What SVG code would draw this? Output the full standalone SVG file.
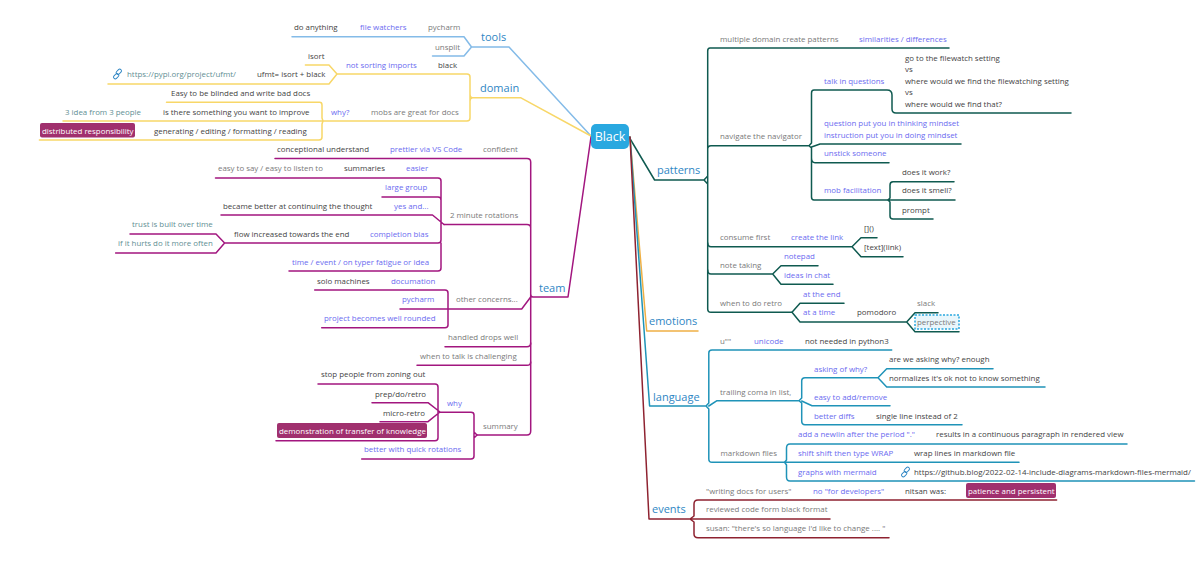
<svg xmlns="http://www.w3.org/2000/svg" width="1200" height="565" viewBox="0 0 1200 565">
<style>
text{font-family:"Open Sans","Noto Sans","Liberation Sans",sans-serif;font-size:7.9px;fill:#444}
.p{fill:#6b6bf0}.g{fill:#7a7a7a}.b{fill:#5f8f94}.w{fill:#fff}
.tp{font-size:11px;fill:#2f86c4}
.c path{fill:none;stroke-width:1.5;stroke-linejoin:round;stroke-linecap:round}
.tools path{stroke:#84bbe8}.domain path{stroke:#f8d768}.team path{stroke:#a2167f}.patterns path{stroke:#0f5a50}.emotions path{stroke:#efb045}.language path{stroke:#1f93b8}.events path{stroke:#8e2230}
.tag{fill:#a0306e}
.lnk{fill:none;stroke:#2f86c4;stroke-width:1}
</style>
<rect width="1200" height="565" fill="#fff"/>
<g id="connectors" class="c">
<g class="tools"><path d="M591 136L509 47H471.5L464 36.7H292M471.5 47L464 56H432.5"/></g>
<g class="domain"><path d="M591 136L520.5 97.7H472.6M337 74H467Q470 74 470 77V118Q470 121 467 121H323M470 94Q470 97.7 472.6 97.7Q470 97.7 470 101M337 74L329 65H305.4M337 74L329 84H108M319.6 102.3H166.5M319.6 102.3Q322 102.3 322 105V118L323 121L322 124V137Q322 140 319 140H39.4M323 121H63"/></g>
<g class="team"><path d="M591 137L568 297H533M530.7 294Q530.7 297 533 297M275 158.5H527Q530.7 158.5 530.7 162V431Q530.7 435 527 435H477M444 224.500H527Q530.7 224.500 530.7 228"/>
<path d="M215.5 178H438Q441 178 441 181V240Q441 243 438 243H224.6M382 197H438Q441 197 441 200M221 215H432.5L444 224.500M289 271H438Q441 271 441 268V243M224.6 243L216 234H130M224.6 243L216 253H115.6"/>
<path d="M530.7 297L521.7 309H450M314.7 290H445Q448 290 448 293V325Q448 327.7 445 327.7H321.7M400 309H450M445 346.7H527Q530.7 346.7 530.7 343M417 365.3H527Q530.7 365.3 530.7 362"/>
<path d="M471 412.3H440M471 412.3Q474 412.3 474 415V456Q474 459 471 459H361.7M474 432L477 435L474 438M318 384H435Q438 384 438 387V437.7Q438 440.7 435 440.7H276M440 412L428 402.7H372M440 412L428 421.7H380"/></g>
<g class="patterns"><path d="M629 137L654.6 180H704M710 48H949M710 48Q707.7 48 707.7 51V309Q707.7 312.3 711 312.3H792M704 180L707.7 176M704 180L707.7 184M711 145.7H809M707.7 149Q707.7 145.7 711 145.7M809 145.7L811.5 143V93Q811.5 90 814 90H887Q892 90 892 95V109Q892 113 896 113H1071M809 145.7L811.5 148V197Q811.5 200 814 200H888M811.5 147L820 144H961M811.5 158Q811.5 162.7 815 162.7H889"/>
<path d="M888 200L890 198V185Q890 181.7 893 181.7H954M888 200H955M888 200L890 202V216Q890 219 893 219H933"/>
<path d="M707.7 243Q707.7 246.7 711 246.7H852L861 237.7H877M852 246.7L861 256.7H903M707.7 270Q707.7 274 711 274H772.7L781 265.7H818M772.7 274L781 284.3H833M792 312.3L800 303.3H844M792 312.3L800 322H906.7L915 312.7H938M906.7 322L915 331.7H959"/></g>
<g class="emotions"><path d="M630 137L646.7 331H698"/></g>
<g class="language"><path d="M630 137L649.6 406H706L708.8 403V353Q708.8 350 712 350H891.7M706 406L708.8 409V459Q708.8 462.3 712 462.3H784.6M708.8 406L717 400.7H799M799 400.7L801.7 398V381Q801.7 377.7 805 377.7H878L886.7 368.7H993M878 377.7L886.7 387H1045M799 400.7L801.7 403V421Q801.7 424.7 805 424.7H962M801.7 401L812 405.7H890"/>
<path d="M784.6 462.3H1019M784.6 462.3L786.5 460V448Q786.5 444 790 444H1127M784.6 462.3L786.5 465V477Q786.5 481 790 481H1194.5"/></g>
<g class="events"><path d="M630 137L649 519H690M690 519L694 516V504Q694 500 698 500H1056.6M690 519H830M690 519L694 522V534Q694 537.7 698 537.7H889"/></g>
</g>
<g id="black"><rect x="591" y="124" width="38" height="25" rx="5" fill="#29a8e0"/><text x="610" y="141" text-anchor="middle" class="w" style="font-size:12.5px">Black</text></g>
<g id="tools"><text x="481" y="41" class="tp">tools</text>
<text x="294" y="30">do anything</text><text x="360" y="30" class="p">file watchers</text><text x="428" y="30" class="g">pycharm</text><text x="435" y="50" class="g">unsplit</text></g>
<g id="domain"><text x="480" y="92" class="tp">domain</text>
<text x="308" y="59">isort</text><text x="346" y="68" class="p">not sorting imports</text><text x="438" y="68">black</text><text x="257" y="77">ufmt= isort + black</text>
<g class="lnk"><rect x="113" y="74.500" width="6" height="3.500" rx="1.700" transform="rotate(-45 116 76)"/><rect x="116" y="70" width="6" height="3.500" rx="1.700" transform="rotate(-45 119 72)"/></g>
<text x="127" y="77" class="b">https://pypi.org/project/ufmt/</text>
<text x="171" y="96">Easy to be blinded and write bad docs</text><text x="331" y="115" class="p">why?</text><text x="371" y="115" class="g">mobs are great for docs</text><text x="65" y="115" class="b">3 idea from 3 people</text><text x="163" y="115">is there something you want to improve</text>
<rect x="40" y="123" width="95" height="14.500" rx="2" class="tag"/><text x="42" y="133.500" class="w">distributed responsibility</text><text x="154" y="134">generating / editing / formatting / reading</text></g>
<g id="team"><text x="539" y="292" class="tp">team</text>
<text x="277" y="152">conceptional understand</text><text x="390" y="152" class="p">prettier via VS Code</text><text x="483" y="152" class="g">confident</text>
<text x="218" y="171" class="g">easy to say / easy to listen to</text><text x="344" y="171">summaries</text><text x="406" y="171" class="p">easier</text>
<text x="385" y="190" class="p">large group</text><text x="223" y="209">became better at continuing the thought</text><text x="394" y="209" class="p">yes and...</text>
<text x="450" y="218" class="g">2 minute rotations</text><text x="132" y="227" class="b">trust is built over time</text><text x="234" y="237">flow increased towards the end</text><text x="370" y="237" class="p">completion bias</text><text x="118" y="246" class="b">if it hurts do it more often</text><text x="292" y="265" class="p">time / event / on typer fatigue or idea</text>
<text x="317" y="284">solo machines</text><text x="391" y="284" class="p">documation</text><text x="402" y="302" class="p">pycharm</text><text x="456" y="302" class="g">other concerns...</text><text x="324" y="321" class="p">project becomes well rounded</text>
<text x="448" y="340" class="g">handled drops well</text><text x="420" y="359" class="g">when to talk is challenging</text>
<text x="321" y="377">stop people from zoning out</text><text x="375" y="397">prep/do/retro</text><text x="447" y="406" class="p">why</text><text x="383" y="416">micro-retro</text>
<rect x="277" y="423" width="150" height="15" rx="2" class="tag"/><text x="279" y="434" class="w">demonstration of transfer of knowledge</text><text x="483" y="429" class="g">summary</text><text x="364" y="452" class="p">better with quick rotations</text></g>
<g id="patterns"><text x="657" y="174" class="tp">patterns</text>
<text x="720" y="42" class="g">multiple domain create patterns</text><text x="859" y="42" class="p">similarities / differences</text>
<text x="905" y="61">go to the filewatch setting</text><text x="905" y="72">vs</text><text x="905" y="84">where would we find the filewatching setting</text><text x="905" y="95">vs</text><text x="905" y="107">where would we find that?</text>
<text x="824" y="84" class="p">talk in questions</text><text x="824" y="126" class="p">question put you in thinking mindset</text><text x="824" y="137.500" class="p">instruction put you in doing mindset</text><text x="720" y="139" class="g">navigate the navigator</text><text x="824" y="156" class="p">unstick someone</text><text x="824" y="193" class="p">mob facilitation</text>
<text x="902" y="175">does it work?</text><text x="902" y="193">does it smell?</text><text x="902" y="213">prompt</text>
<text x="720" y="240" class="g">consume first</text><text x="791" y="240" class="p">create the link</text><text x="864" y="231">[]()</text><text x="864" y="250">[text](link)</text>
<text x="720" y="268" class="g">note taking</text><text x="784" y="259" class="p">notepad</text><text x="784" y="278" class="p">ideas in chat</text>
<text x="720" y="306" class="g">when to do retro</text><text x="803" y="297" class="p">at the end</text><text x="803" y="315" class="p">at a time</text><text x="857" y="315">pomodoro</text><text x="917" y="306" class="g">slack</text>
<rect x="915" y="315" width="44" height="14" fill="#eaf6fb" stroke="#29a8e0" stroke-width="1.500" stroke-dasharray="2 1.500"/><text x="917" y="325" class="g">perpective</text></g>
<g id="emotions"><text x="649" y="325" class="tp">emotions</text></g>
<g id="language"><text x="653" y="401" class="tp">language</text>
<text x="720" y="344" class="g">u""</text><text x="754" y="344" class="p">unicode</text><text x="805" y="344">not needed in python3</text>
<text x="889" y="362">are we asking why? enough</text><text x="814" y="371.500" class="p">asking of why?</text><text x="889" y="381">normalizes it's ok not to know something</text><text x="720" y="395" class="g">trailing coma in list,</text><text x="814" y="400" class="p">easy to add/remove</text><text x="814" y="419" class="p">better diffs</text><text x="876" y="419">single line instead of 2</text>
<text x="798" y="437" class="p">add a newlin after the period "."</text><text x="936" y="437">results in a continuous paragraph in rendered view</text><text x="720.500" y="456" class="g">markdown files</text><text x="798" y="456" class="p">shift shift then type WRAP</text><text x="914" y="456">wrap lines in markdown file</text><text x="798" y="475" class="p">graphs with mermaid</text>
<g class="lnk"><rect x="901" y="472.500" width="6" height="3.500" rx="1.700" transform="rotate(-45 904 474)"/><rect x="904" y="468" width="6" height="3.500" rx="1.700" transform="rotate(-45 907 470)"/></g>
<text x="914" y="475">https://github.blog/2022-02-14-include-diagrams-markdown-files-mermaid/</text></g>
<g id="events"><text x="652" y="513" class="tp">events</text>
<text x="706" y="494" class="g">"writing docs for users"</text><text x="813" y="494" class="p">no "for developers"</text><text x="905" y="494">nitsan was:</text><rect x="966" y="483" width="90" height="15" rx="2" class="tag"/><text x="968" y="494" class="w">patience and persistent</text>
<text x="706" y="512" class="g">reviewed code form black format</text><text x="706" y="531" class="g">susan: "there's so language I'd like to change .... "</text></g>
</svg>
